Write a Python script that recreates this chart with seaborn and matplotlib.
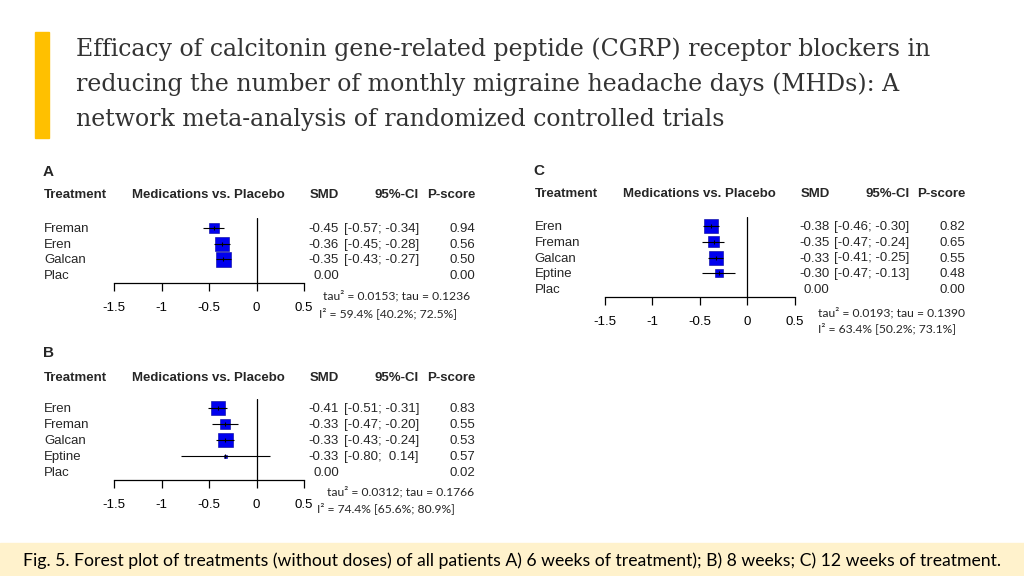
import numpy as np
import pandas as pd
import matplotlib
matplotlib.use("Agg")
import matplotlib.pyplot as plt
from matplotlib.patches import Rectangle
import seaborn as sns

# ---------------- data ----------------
title_lines = [
    "Efficacy of calcitonin gene-related peptide (CGRP) receptor blockers in",
    "reducing the number of monthly migraine headache days (MHDs): A",
    "network meta-analysis of randomized controlled trials",
]
caption = ("Fig. 5. Forest plot of treatments (without doses) of all patients A) 6 weeks of "
           "treatment); B) 8 weeks; C) 12 weeks of treatment.")

header = ["Treatment", "Medications vs. Placebo", "SMD", "95%-CI", "P-score"]
x_ticks = [-1.5, -1, -0.5, 0, 0.5]
x_tick_labels = ["-1.5", "-1", "-0.5", "0", "0.5"]

a_treat = ["Freman", "Eren", "Galcan", "Plac"]
a_smd = [-0.45, -0.36, -0.35, 0.00]
a_lo = [-0.57, -0.45, -0.43, np.nan]
a_hi = [-0.34, -0.28, -0.27, np.nan]
a_pscore = [0.94, 0.56, 0.50, 0.00]
a_weight = [100, 196, 210, 0]
a_tau2, a_tau = 0.0153, 0.1236
a_i2 = [59.4, 40.2, 72.5]

b_treat = ["Eren", "Freman", "Galcan", "Eptine", "Plac"]
b_smd = [-0.41, -0.33, -0.33, -0.33, 0.00]
b_lo = [-0.51, -0.47, -0.43, -0.80, np.nan]
b_hi = [-0.31, -0.20, -0.24, 0.14, np.nan]
b_pscore = [0.83, 0.55, 0.53, 0.57, 0.02]
b_weight = [196, 100, 210, 9, 0]
b_tau2, b_tau = 0.0312, 0.1766
b_i2 = [74.4, 65.6, 80.9]

c_treat = ["Eren", "Freman", "Galcan", "Eptine", "Plac"]
c_smd = [-0.38, -0.35, -0.33, -0.30, 0.00]
c_lo = [-0.46, -0.47, -0.41, -0.47, np.nan]
c_hi = [-0.30, -0.24, -0.25, -0.13, np.nan]
c_pscore = [0.82, 0.65, 0.55, 0.48, 0.00]
c_weight = [196, 121, 196, 64, 0]
c_tau2, c_tau = 0.0193, 0.1390
c_i2 = [63.4, 50.2, 73.1]

# ---------------- setup ----------------
sns.set_theme(style="white")
plt.rcParams["font.family"] = ["Liberation Sans", "DejaVu Sans"]
plt.rcParams["axes.unicode_minus"] = False

W, H = 1024, 576
fig = plt.figure(figsize=(W / 100, H / 100), dpi=100)
fig.patch.set_facecolor("white")
renderer = fig.canvas.get_renderer()

DY = 1.0  # small vertical nudge for centred text


def fx(px):
    return px / W


def fy(py):
    return 1 - py / H


def fit_size(text, width_px, family, weight="normal", start=12):
    t = fig.text(0, 0, text, fontsize=start, family=family, fontweight=weight)
    w = t.get_window_extent(renderer).width
    t.remove()
    return start * width_px / w


# yellow bar + title
fig.patches.append(Rectangle((fx(35), fy(138)), fx(14), (138 - 32) / H,
                             transform=fig.transFigure, color="#FFC000", zorder=1))
tsize = fit_size(title_lines[0], 852, ["DejaVu Serif"])
for line, base in zip(title_lines, [56, 91, 126]):
    fig.text(fx(76), fy(base), line, fontsize=tsize, family=["DejaVu Serif"],
             color="#333333", va="baseline", ha="left")

# caption band
fig.patches.append(Rectangle((0, 0), 1, (576 - 543) / H, transform=fig.transFigure,
                             color="#FFF2CC", zorder=0))
csize = fit_size(caption, 975, ["Lato"])
fig.text(fx(512), fy(566), caption, fontsize=csize, family=["Lato"], color="black",
         ha="center", va="baseline")

FS = 9.5
stat_size = fit_size("tau\u00b2 = 0.0153; tau = 0.1236", 146, ["Lato"])


def panel(label, x0, treat, smd, lo, hi, pscore, weight, tau2, tau, i2, lay):
    # ---- marks ----
    r0, r1 = lay["rows"]
    n = len(treat)
    sp = (r1 - r0) / (n - 1)
    top, bot = lay["vtop"], lay["axis_y"]
    left_px, right_px = 114.3 + x0, 304.0 + x0
    ax = fig.add_axes([fx(left_px), fy(bot), fx(right_px - left_px), (bot - top) / H])
    ax.set_xlim(-1.5, 0.5)
    ax.set_ylim((bot - r0) / sp, (top - r0) / sp)
    ax.set_facecolor("none")

    df = pd.DataFrame({"treat": treat, "smd": smd, "lo": lo, "hi": hi,
                       "w": weight, "row": np.arange(n)})
    dfe = df[df["w"] > 0]
    # box area proportional to weight (weights are box areas in px^2)
    sns.scatterplot(data=dfe, x="smd", y="row", size="w", size_norm=(0, 250),
                    sizes=(0, 250 * 0.5184), marker="s", color="#0000EE",
                    edgecolor="#00009A", linewidth=0.4, legend=False, ax=ax,
                    zorder=3, clip_on=False)
    ax.hlines(dfe["row"], dfe["lo"], dfe["hi"], color="black", lw=0.8, zorder=4,
              clip_on=False)
    ax.plot(dfe["smd"], dfe["row"], ls="none", marker="|", ms=3, mew=0.8,
            color="black", zorder=5, clip_on=False)
    ax.axvline(0, color="black", lw=0.9, zorder=2)

    for s in ["left", "top", "right"]:
        ax.spines[s].set_visible(False)
    ax.spines["bottom"].set_color("black")
    ax.spines["bottom"].set_linewidth(0.9)
    ax.set_yticks([])
    ax.set_xticks(x_ticks)
    ax.set_xticklabels(x_tick_labels)
    ax.tick_params(axis="x", direction="out", length=6, width=0.9, color="black",
                   labelsize=FS, labelcolor="black", pad=8, bottom=True)
    ax.set_xlabel("")
    ax.set_ylabel("")
    ax.grid(False)

    # ---- texts ----
    fig.text(fx(43 + x0), fy(lay["label_y"] + DY), label, fontsize=11, fontweight="bold",
             ha="left", va="center")
    hy = fy(lay["header_y"] + DY)
    fig.text(fx(44 + x0), hy, header[0], fontsize=FS, fontweight="bold", ha="left", va="center")
    fig.text(fx(208.5 + x0), hy, header[1], fontsize=FS, fontweight="bold", ha="center", va="center")
    fig.text(fx(339 + x0), hy, header[2], fontsize=FS, fontweight="bold", ha="right", va="center")
    fig.text(fx(419 + x0), hy, header[3], fontsize=FS, fontweight="bold", ha="right", va="center")
    fig.text(fx(475 + x0), hy, header[4], fontsize=FS, fontweight="bold", ha="right", va="center")
    for i in range(n):
        yy = fy(r0 + i * sp + DY)
        fig.text(fx(44 + x0), yy, treat[i], fontsize=FS, ha="left", va="center")
        fig.text(fx(339 + x0), yy, f"{smd[i]:.2f}", fontsize=FS, ha="right", va="center")
        if not np.isnan(lo[i]):
            fig.text(fx(419 + x0), yy, f"[{lo[i]:5.2f}; {hi[i]:5.2f}]", fontsize=FS,
                     ha="right", va="center")
        fig.text(fx(475 + x0), yy, f"{pscore[i]:.2f}", fontsize=FS, ha="right", va="center")
    tx, ty = lay["tau_xy"]
    fig.text(fx(tx + x0), fy(ty + DY), f"tau\u00b2 = {tau2:.4f}; tau = {tau:.4f}",
             fontsize=stat_size, family=["Lato"], ha="left", va="center")
    ix, iy = lay["i2_xy"]
    fig.text(fx(ix + x0), fy(iy + DY), f"I\u00b2 = {i2[0]:.1f}% [{i2[1]:.1f}%; {i2[2]:.1f}%]",
             fontsize=stat_size, family=["Lato"], ha="left", va="center")


panel("A", 0, a_treat, a_smd, a_lo, a_hi, a_pscore, a_weight, a_tau2, a_tau, a_i2,
      dict(label_y=171, header_y=194, rows=(228, 275), vtop=218, axis_y=283,
           tau_xy=(323, 295), i2_xy=(319, 312)))
panel("B", 0, b_treat, b_smd, b_lo, b_hi, b_pscore, b_weight, b_tau2, b_tau, b_i2,
      dict(label_y=352, header_y=377, rows=(408, 472), vtop=399, axis_y=480,
           tau_xy=(327, 491), i2_xy=(317, 507)))
panel("C", 490.5, c_treat, c_smd, c_lo, c_hi, c_pscore, c_weight, c_tau2, c_tau, c_i2,
      dict(label_y=170, header_y=193, rows=(226, 289), vtop=217, axis_y=297,
           tau_xy=(328, 312), i2_xy=(328, 327)))

fig.savefig("out.png", dpi=100, facecolor="white")
